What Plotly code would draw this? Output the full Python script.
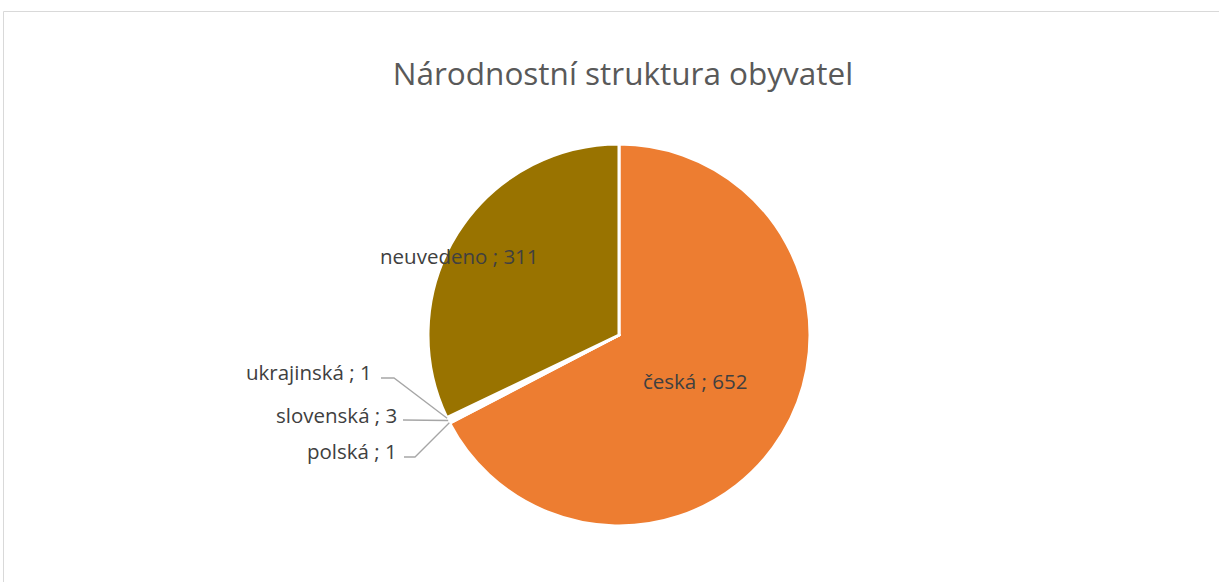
import math
import plotly.graph_objects as go

# ---- data ----
categories = ["česká", "polská", "slovenská", "ukrajinská", "neuvedeno"]
values = [652, 1, 3, 1, 311]
colors = ["#ED7D31", "#FFFFFF", "#FFFFFF", "#FFFFFF", "#997300"]
title_text = "Národnostní struktura obyvatel"

W, H = 1219, 582
CX, CY, R = 619, 335, 191  # pie centre / radius in px


def px(x):
    return x / W


def py(y):
    return 1 - y / H


fig = go.Figure()
fig.add_trace(go.Pie(
    labels=categories, values=values, sort=False, direction="clockwise",
    rotation=0, marker=dict(colors=colors, line=dict(color="#FFFFFF", width=3)),
    textinfo="none", hoverinfo="label+value", showlegend=False,
    domain=dict(x=[px(CX - R), px(CX + R)], y=[py(CY + R), py(CY - R)]),
))

total = sum(values)
cum = 0
mids = []
for v in values:
    mids.append((cum + v / 2) / total * 2 * math.pi)
    cum += v


def edge_point(ang, rr=R):
    return CX + rr * math.sin(ang), CY - rr * math.cos(ang)


FONT = "'Open Sans', sans-serif"
LSIZE = 20.5
annotations = []
shapes = []

# inside-ish labels
inner_pos = {"česká": (695, 381, "center"), "neuvedeno": (459, 256, "center")}
# outside labels: text right edge x, text y, elbow path
outer_pos = {
    "ukrajinská": (374, 372, [(381, 378), (394, 378)]),
    "slovenská": (399, 415, [(403, 420)]),
    "polská": (399, 451, [(404, 457), (415, 457)]),
}
for i, (c, v) in enumerate(zip(categories, values)):
    txt = f"{c} ; {v}"
    if c in inner_pos:
        x, y, anc = inner_pos[c]
        annotations.append(dict(x=px(x), y=py(y), xref="paper", yref="paper", text=txt,
                                showarrow=False, xanchor=anc, yanchor="middle",
                                font=dict(family=FONT, size=LSIZE, color="#404040")))
    else:
        x, y, pts = outer_pos[c]
        annotations.append(dict(x=px(x), y=py(y), xref="paper", yref="paper", text=txt,
                                showarrow=False, xanchor="right", yanchor="middle",
                                font=dict(family=FONT, size=LSIZE, color="#404040")))
        ex, ey = edge_point(mids[i])
        allp = pts + [(ex, ey)]
        path = "M " + " L ".join(f"{px(a)},{py(b)}" for a, b in allp)
        shapes.append(dict(type="path", path=path, xref="paper", yref="paper",
                           line=dict(color="#A6A6A6", width=1.3)))

# chart border
shapes.append(dict(type="rect", xref="paper", yref="paper", x0=px(3.5), x1=px(1230),
                   y0=py(600), y1=py(11.5), line=dict(color="#D9D9D9", width=1)))

fig.update_layout(
    width=W, height=H, margin=dict(l=0, r=0, t=0, b=0),
    paper_bgcolor="white", plot_bgcolor="white",
    title=dict(text=title_text, x=px(623), xanchor="center", y=py(74), yanchor="middle",
               font=dict(family=FONT, size=31.5, color="#595959")),
    annotations=annotations, shapes=shapes,
)
fig.write_html("out.html")
